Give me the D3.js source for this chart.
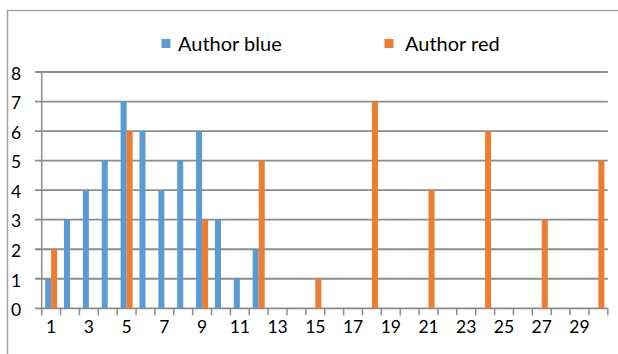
<!DOCTYPE html>
<html><head><meta charset="utf-8">
<script src="https://cdn.jsdelivr.net/npm/d3@7"></script>
<style>html,body{margin:0;padding:0;background:#fff;}svg{display:block;}</style>
</head><body>
<svg id="c" width="618" height="354"></svg>
<script>
const categories = d3.range(1, 31);
const seriesNames = ["Author blue", "Author red"];
const blueValues = [1,3,4,5,7,6,4,5,6,3,1,2,0,0,0,0,0,0,0,0,0,0,0,0,0,0,0,0,0,0];
const redValues  = [2,0,0,0,6,0,0,0,3,0,0,5,0,0,1,0,0,7,0,0,4,0,0,6,0,0,3,0,0,5];
const xTickLabels = [1,3,5,7,9,11,13,15,17,19,21,23,25,27,29];
const yTicks = [0,1,2,3,4,5,6,7,8];
const colors = ["#5B9BD5", "#ED7D31"];

const svg = d3.select("#c");
const font = "Lato, 'Open Sans', sans-serif";
const gridColor = "#8c8c8c";

// outer border
svg.append("rect").attr("x", 7.5).attr("y", 10.5).attr("width", 640).attr("height", 400)
  .attr("fill", "none").attr("stroke", "#a6a6a6").attr("stroke-width", 1.5);

const x = d3.scaleBand().domain(categories).range([41.7, 607.8]).paddingInner(0).paddingOuter(0);
const x1 = d3.scaleBand().domain(seriesNames).range([0, x.bandwidth()]).paddingInner(0).paddingOuter(0.57);
const y = d3.scaleLinear().domain([0, 8]).range([308.3, 72]);

// gridlines
svg.append("g").selectAll("line").data(yTicks).join("line")
  .attr("x1", 35).attr("x2", 607.8)
  .attr("y1", d => y(d)).attr("y2", d => y(d))
  .attr("stroke", gridColor).attr("stroke-width", 1.8);

// y axis line
svg.append("line").attr("x1", 41.7).attr("x2", 41.7).attr("y1", y(8)).attr("y2", y(0))
  .attr("stroke", gridColor).attr("stroke-width", 1.5);

// x ticks at boundaries
const bounds = categories.map(c => x(c)).concat([x(30) + x.bandwidth()]);
svg.append("g").selectAll("line").data(bounds).join("line")
  .attr("x1", d => d).attr("x2", d => d).attr("y1", y(0)).attr("y2", y(0) + 7)
  .attr("stroke", gridColor).attr("stroke-width", 1.5);

// bars
const data = [blueValues, redValues];
data.forEach((vals, si) => {
  svg.append("g").selectAll("rect").data(categories).join("rect")
    .attr("x", (c) => x(c) + x1(seriesNames[si]))
    .attr("width", x1.bandwidth())
    .attr("y", (c, i) => y(vals[i]))
    .attr("height", (c, i) => y(0) - y(vals[i]))
    .attr("fill", colors[si]);
});

// y labels
svg.append("g").selectAll("text").data(yTicks).join("text")
  .attr("x", 11).attr("y", d => y(d) + 1.5).attr("dy", "0.36em")
  .attr("font-family", font).attr("font-size", 17.5).attr("fill", "#000")
  .text(d => d);

// x labels
svg.append("g").selectAll("text").data(xTickLabels).join("text")
  .attr("x", d => x(d) + x.bandwidth() / 2).attr("y", 333)
  .attr("text-anchor", "middle")
  .attr("font-family", font).attr("font-size", 17.5).attr("fill", "#000")
  .text(d => d);

// legend
const legendSwatchX = [161.5, 384.5];
const legendTextX = [178, 405];
seriesNames.forEach((n, i) => {
  svg.append("rect").attr("x", legendSwatchX[i]).attr("y", 39).attr("width", 9).attr("height", 9).attr("fill", colors[i]);
  svg.append("text").attr("x", legendTextX[i]).attr("y", 51)
    .attr("font-family", font).attr("font-size", 20).attr("fill", "#000").text(n);
});
</script>
</body></html>
